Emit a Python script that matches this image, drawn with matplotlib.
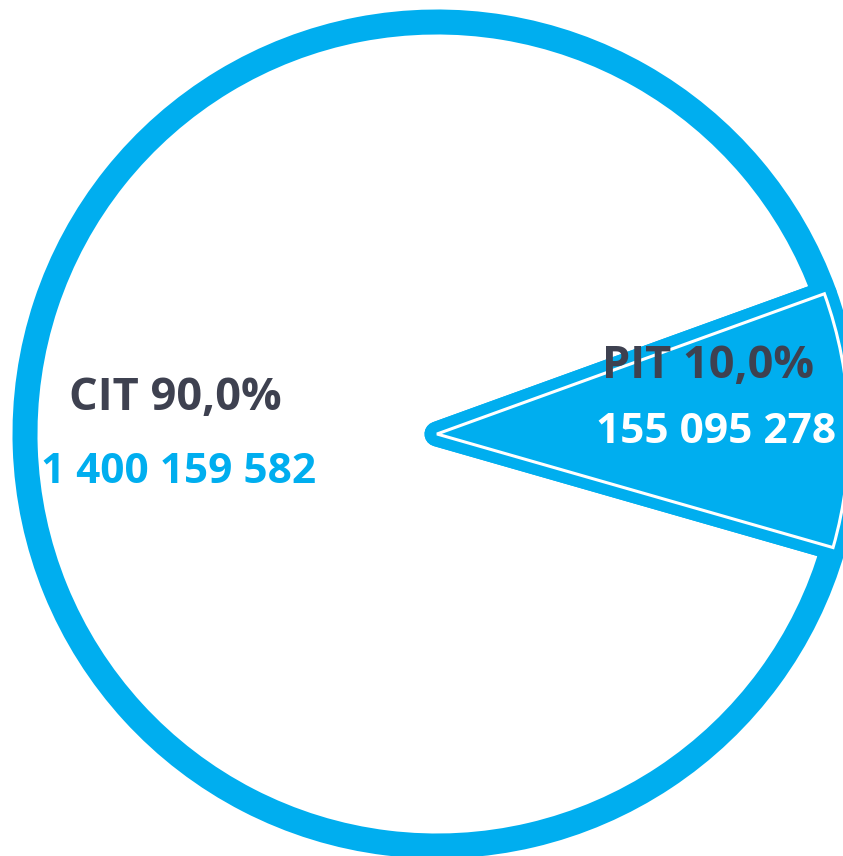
import matplotlib.pyplot as plt

# data
labels = ["CIT", "PIT"]
values = [1400159582, 155095278]

blue = "#00AEEF"
dark = "#3E4150"

plt.rcParams['font.family'] = ['Open Sans', 'DejaVu Sans']

fig = plt.figure(figsize=(8.43, 8.56), dpi=100)
ax = fig.add_axes([0, 0, 1, 1])

# pie centre / radius in pixel units
cx, cy, r = 437, 856 - 434, 412

# PIT first so it spans -16..20 deg, CIT takes the rest
order = [1, 0]
vals = [values[i] for i in order]

wedges, _ = ax.pie(vals, colors=[blue, "white"], startangle=-16,
                   radius=r, center=(cx, cy),
                   wedgeprops=dict(edgecolor=blue, linewidth=18))
for w in wedges:
    w.set_joinstyle('round')
wedges[0].set_zorder(3)
wedges[1].set_zorder(2)

# thin white line on top of the PIT wedge
w2, _ = ax.pie(vals, colors=[blue, "none"], startangle=-16,
               radius=r, center=(cx, cy),
               wedgeprops=dict(edgecolor="white", linewidth=2.2))
w2[0].set_zorder(4)
w2[1].set_visible(False)

ax.set_xlim(0, 843)
ax.set_ylim(0, 856)
ax.set_aspect('auto')
ax.axis('off')

total = sum(values)

def fmt_num(v):
    return f"{v:,}".replace(",", " ")

def fmt_pct(v):
    return f"{v / total * 100:.1f}%".replace(".", ",")

fs_lbl = 32.5
fs_num = 30.5

# CIT labels
ax.text(175, 856 - 410, f"{labels[0]} {fmt_pct(values[0])}", ha='center', va='baseline',
        fontsize=fs_lbl, fontweight='bold', color=dark, zorder=5)
ax.text(179, 856 - 483, fmt_num(values[0]), ha='center', va='baseline',
        fontsize=fs_num, fontweight='bold', color=blue, zorder=5)

# PIT labels
ax.text(708, 856 - 378, f"{labels[1]} {fmt_pct(values[1])}", ha='center', va='baseline',
        fontsize=fs_lbl, fontweight='bold', color=dark, zorder=5)
ax.text(716, 856 - 443, fmt_num(values[1]), ha='center', va='baseline',
        fontsize=fs_num, fontweight='bold', color="white", zorder=5)

fig.savefig("out.png", dpi=100)
